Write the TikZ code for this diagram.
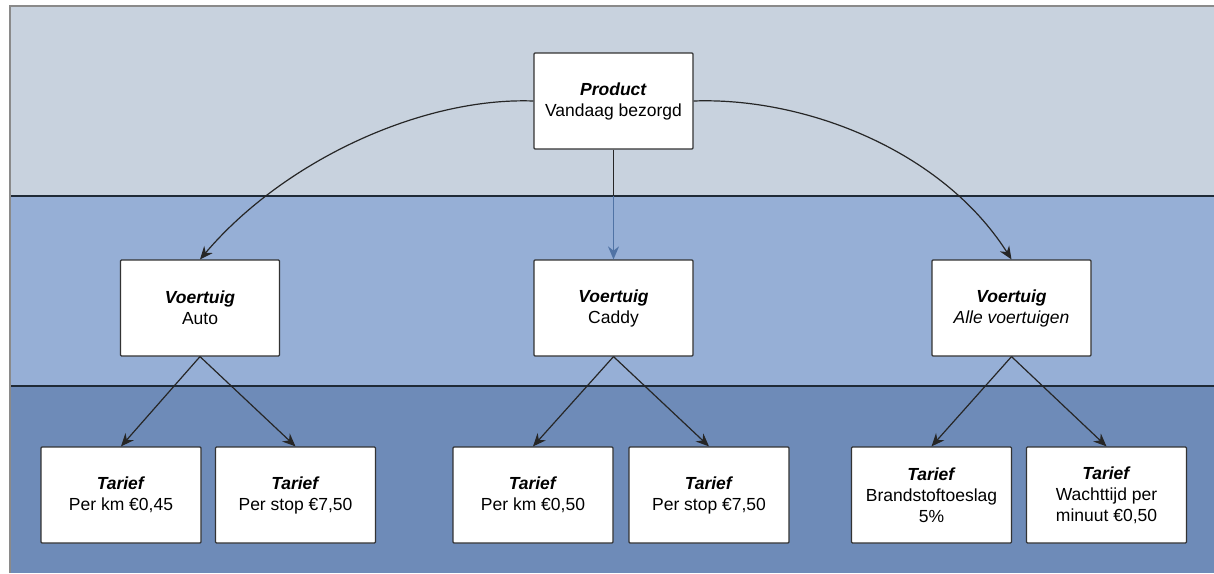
\documentclass[tikz,border=0pt]{standalone}
\usepackage{fontspec}
\setmainfont{Liberation Sans}
\usetikzlibrary{arrows.meta}
\definecolor{bandA}{HTML}{C8D2DE}
\definecolor{bandB}{HTML}{96AFD6}
\definecolor{bandC}{HTML}{6E8BB8}
\definecolor{bandline}{HTML}{1F2A36}
\definecolor{framegray}{HTML}{8A8A8A}
\definecolor{bluearrow}{HTML}{5073A5}
\tikzset{
  box/.style={draw=black!80, fill=white, line width=1.2pt, rounded corners=1pt,
    minimum width=159pt, minimum height=96pt, align=center, inner sep=2pt,
    font=\fontsize{17.5}{21}\selectfont},
  conn/.style={draw=black!85, line width=1.2pt, -{Stealth[length=13pt,width=11pt]}},
  bconn/.style={draw=bluearrow, line width=1.2pt, -{Stealth[length=13pt,width=11pt]}},
}
\newcommand{\ttl}[1]{\textbf{\textit{#1}}}
\begin{document}
\begin{tikzpicture}[x=1pt,y=-1pt]
\useasboundingbox (0,0) rectangle (1214,573);
% bands
\fill[bandA] (10,6) rectangle (1214,196);
\fill[bandB] (10,196) rectangle (1214,386);
\fill[bandC] (10,386) rectangle (1214,573);
\draw[bandline, line width=2pt] (10,196) -- (1214,196);
\draw[bandline, line width=2pt] (10,386) -- (1214,386);
\draw[framegray, line width=2pt] (10,573) -- (10,6) -- (1214,6);
% nodes
\node[box] (prod) at (613.5,101) {\ttl{Product}\\Vandaag bezorgd};
\node[box] (auto) at (200,308) {\ttl{Voertuig}\\Auto};
\node[box] (caddy) at (613.5,308) {\ttl{Voertuig}\\Caddy};
\node[box] (alle) at (1011.5,308) {\ttl{Voertuig}\\\textit{Alle voertuigen}};
\node[box, minimum width=160pt] (t1) at (121,495) {\ttl{Tarief}\\Per km €0,45};
\node[box, minimum width=160pt] (t2) at (295.5,495) {\ttl{Tarief}\\Per stop €7,50};
\node[box, minimum width=160pt] (t3) at (533,495) {\ttl{Tarief}\\Per km €0,50};
\node[box, minimum width=160pt] (t4) at (709,495) {\ttl{Tarief}\\Per stop €7,50};
\node[box, minimum width=160pt] (t5) at (931.5,495) {\ttl{Tarief}\\Brandstoftoeslag\\5\%};
\node[box, minimum width=160pt] (t6) at (1106.5,495) {\ttl{Tarief}\\Wachttijd per\\minuut €0,50};
\coordinate (cb) at (613.5,196);
% connectors
\draw[conn] (prod.west) .. controls +(-110,-4) and +(85,-100) .. (auto.north);
\draw[conn] (prod.east) .. controls +(110,-4) and +(-70,-110) .. (alle.north);
\draw[bconn] (cb) -- (caddy.north);
\draw[draw=black!85, line width=1.2pt] (prod.south) -- (cb);
\draw[conn] (auto.south) -- (t1.north);
\draw[conn] (auto.south) -- (t2.north);
\draw[conn] (caddy.south) -- (t3.north);
\draw[conn] (caddy.south) -- (t4.north);
\draw[conn] (alle.south) -- (t5.north);
\draw[conn] (alle.south) -- (t6.north);
\end{tikzpicture}
\end{document}
